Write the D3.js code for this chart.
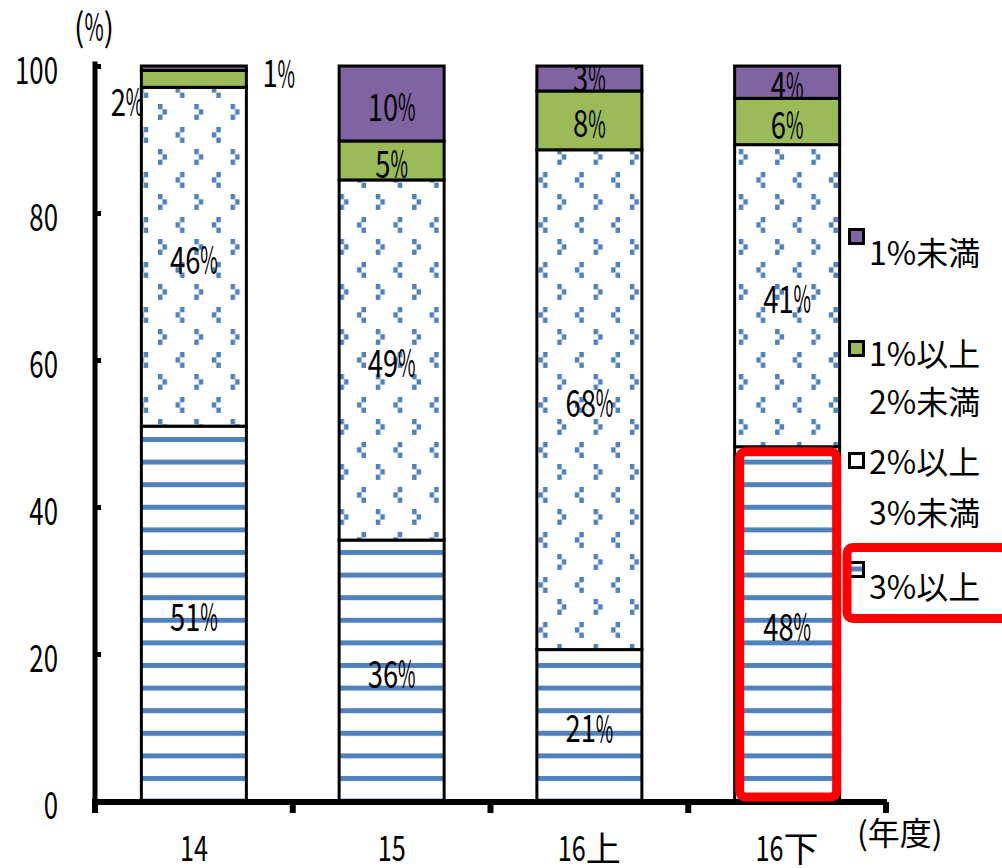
<!DOCTYPE html>
<html><head><meta charset="utf-8">
<script src="https://cdn.jsdelivr.net/npm/d3@7"></script>
<style>
html,body{margin:0;padding:0;background:#fff;}
svg{display:block;font-family:"Noto Sans CJK JP","Noto Sans",sans-serif;}
</style></head>
<body>
<svg id="c" width="1002" height="868"></svg>
<script>
// ---- data ----
const categories = ['14', '15', '16上', '16下'];
const seriesNames = ['3%以上', '2%以上3%未満', '1%以上2%未満', '1%未満'];
const above3   = [51.0, 35.5, 20.6, 48.2];
const from2to3 = [46.1, 49.0, 68.0, 41.1];
const from1to2 = [2.3, 5.3, 8.0, 6.3];
const below1   = [0.6, 10.2, 3.4, 4.4];
const yTicks = [0, 20, 40, 60, 80, 100];
const legendLines = [['1%未満'], ['1%以上', '2%未満'], ['2%以上', '3%未満'], ['3%以上']];
const highlightCategory = '16下';

// ---- setup ----
const svg = d3.select('#c');
const FONT = '"Noto Sans CJK JP","Noto Sans",sans-serif';
const x = d3.scaleBand().domain(categories).range([95, 886]).paddingInner(0.469).paddingOuter(0.2345);
const y = d3.scaleLinear().domain([0, 100]).range([801, 66]);

const rows = categories.map((c, i) => ({cat: c, v: [above3[i], from2to3[i], from1to2[i], below1[i]]}));
const fills = ['url(#hlines)', 'url(#dots)', '#9BBB59', '#8064A2'];

const defs = svg.append('defs');
const hp = defs.append('pattern').attr('id', 'hlines').attr('patternUnits', 'userSpaceOnUse')
  .attr('x', 0).attr('y', 776).attr('width', 40).attr('height', 22.6);
hp.append('rect').attr('width', 40).attr('height', 22.6).attr('fill', '#fff');
hp.append('rect').attr('width', 40).attr('height', 5).attr('fill', '#4F81BD');
const dp = defs.append('pattern').attr('id', 'dots').attr('patternUnits', 'userSpaceOnUse')
  .attr('x', 158).attr('y', 14).attr('width', 36.3).attr('height', 45);
dp.append('rect').attr('width', 36.3).attr('height', 45).attr('fill', '#fff');
[[0,0],[4.5,5.3],[0,10.6],[22,23],[17.5,28.3],[22,33.6]].forEach(p => {
  dp.append('rect').attr('x', p[0]).attr('y', p[1]).attr('width', 4.5).attr('height', 5.3).attr('fill', '#4F81BD');
});
defs.append('clipPath').attr('id', 'plotclip').append('rect')
  .attr('x', 90).attr('y', 67).attr('width', 800).attr('height', 740);

// condensed text helper: per-character horizontal scaling
function ctext(parent, str, cx, cy, size, opts) {
  opts = opts || {};
  const sd = opts.sd == null ? 0.72 : opts.sd;
  const sp = opts.sp == null ? 0.5 : opts.sp;
  const anchor = opts.anchor || 'middle';
  const g = parent.append('g').attr('transform', `translate(${cx},${cy})`);
  const parts = [];
  for (const ch of str) {
    const t = g.append('text').text(ch).attr('font-size', size).attr('font-family', FONT)
      .attr('dominant-baseline', 'central').attr('fill', '#000');
    let s = 1;
    if (/[0-9]/.test(ch)) s = sd;
    else if (ch === '%') s = sp;
    else if (/[()]/.test(ch)) s = 0.8;
    const w = t.node().getComputedTextLength() * s;
    parts.push({t, s, w});
  }
  const total = d3.sum(parts, p => p.w);
  let px = anchor === 'middle' ? -total / 2 : anchor === 'end' ? -total : 0;
  parts.forEach(p => { p.t.attr('transform', `translate(${px},0) scale(${p.s},1)`); px += p.w; });
  return g;
}

// ---- bars ----
const bw = x.bandwidth();
const barG = svg.append('g');
rows.forEach(r => {
  let cum = 0;
  r.v.forEach((v, k) => {
    barG.append('rect')
      .attr('x', x(r.cat)).attr('width', bw)
      .attr('y', y(cum + v)).attr('height', y(cum) - y(cum + v))
      .attr('fill', fills[k]).attr('stroke', '#000').attr('stroke-width', 3);
    cum += v;
  });
});

// ---- labels ----
const labG = svg.append('g').attr('clip-path', 'url(#plotclip)');
const outG = svg.append('g');
rows.forEach(r => {
  let cum = 0;
  r.v.forEach((v, k) => {
    const mid = y(cum + v / 2);
    const txt = Math.round(v) + '%';
    if (v < 3 && k === 2) {
      ctext(outG, txt, x(r.cat) + 2, mid + 21, 38, {anchor: 'end'});
    } else if (v < 3 && k === 3) {
      ctext(outG, txt, x(r.cat) + bw + 16, mid + 3, 38, {anchor: 'start'});
    } else {
      const dy = (k === 3 && v < 4) ? -3 : 1;
      ctext(labG, txt, x(r.cat) + bw / 2, mid + dy, 38);
    }
    cum += v;
  });
});

// ---- axes ----
const yAxis = d3.axisRight(y).tickValues(yTicks).tickSize(6).tickSizeOuter(0).tickFormat('');
const yg = svg.append('g').attr('transform', 'translate(95,0)').call(yAxis);
yg.select('.domain').attr('stroke', '#000').attr('stroke-width', 5).attr('stroke-linecap', 'square')
  .attr('d', `M0,${y(0) + 2}V${y(100) - 2}`);
yg.selectAll('.tick line').attr('stroke', '#000').attr('stroke-width', 5);
yTicks.forEach(t => ctext(svg, String(t), 58, y(t) + 1, 38, {anchor: 'end', sd: 0.68}));

const xAxis = d3.axisBottom(x).tickSize(0).tickSizeOuter(0).tickFormat('');
const xg = svg.append('g').attr('transform', `translate(0,${y(0) + 1})`).call(xAxis);
xg.select('.domain').attr('stroke', '#000').attr('stroke-width', 6).attr('d', 'M92,0H887');
const bounds = categories.map(c => x(c) - x.step() * x.paddingInner() / 2).concat([x.range()[1]]);
bounds.forEach(b => {
  xg.append('line').attr('x1', b).attr('x2', b).attr('y1', 0).attr('y2', 11)
    .attr('stroke', '#000').attr('stroke-width', 6);
});
categories.forEach(c => ctext(svg, c, x(c) + bw / 2, 846, 35, {sd: 0.72}));
ctext(svg, '(%)', 94, 24, 38, {sd: 0.72, sp: 0.55});
svg.append('text').attr('x', 857).attr('y', 831).attr('dominant-baseline', 'central')
  .attr('font-size', 32).attr('font-family', FONT).text('(年度)');

// ---- highlight on bar ----
const hi = rows.find(r => r.cat === highlightCategory);
svg.append('rect')
  .attr('x', x(hi.cat) + 5).attr('width', bw - 8)
  .attr('y', y(hi.v[0]) + 5).attr('height', y(0) - y(hi.v[0]) - 9)
  .attr('rx', 6).attr('fill', 'none').attr('stroke', '#FF0000').attr('stroke-width', 9);

// ---- legend ----
const legFills = ['#8064A2', '#9BBB59', '#fff', '#fff'];
const boxY = [229.5, 341.5, 453.5, 562.5];
const textY = [[251], [352, 400], [460, 511], [585]];
const lg = svg.append('g');
legendLines.forEach((lines, i) => {
  lg.append('rect').attr('x', 849.5).attr('y', boxY[i]).attr('width', 14).attr('height', 14)
    .attr('fill', legFills[i]).attr('stroke', '#000').attr('stroke-width', 3);
  if (i === 3) lg.append('rect').attr('x', 851).attr('y', boxY[i] + 4).attr('width', 11).attr('height', 5).attr('fill', '#4F81BD');
  lines.forEach((ln, j) => {
    lg.append('text').attr('x', 869).attr('y', textY[i][j]).attr('dominant-baseline', 'central')
      .attr('font-size', 32).attr('font-family', FONT).attr('fill', '#000').text(ln);
  });
});
svg.append('rect').attr('x', 847).attr('y', 547.5).attr('width', 160).attr('height', 71)
  .attr('rx', 6).attr('fill', 'none').attr('stroke', '#FF0000').attr('stroke-width', 9);
</script>
</body></html>
